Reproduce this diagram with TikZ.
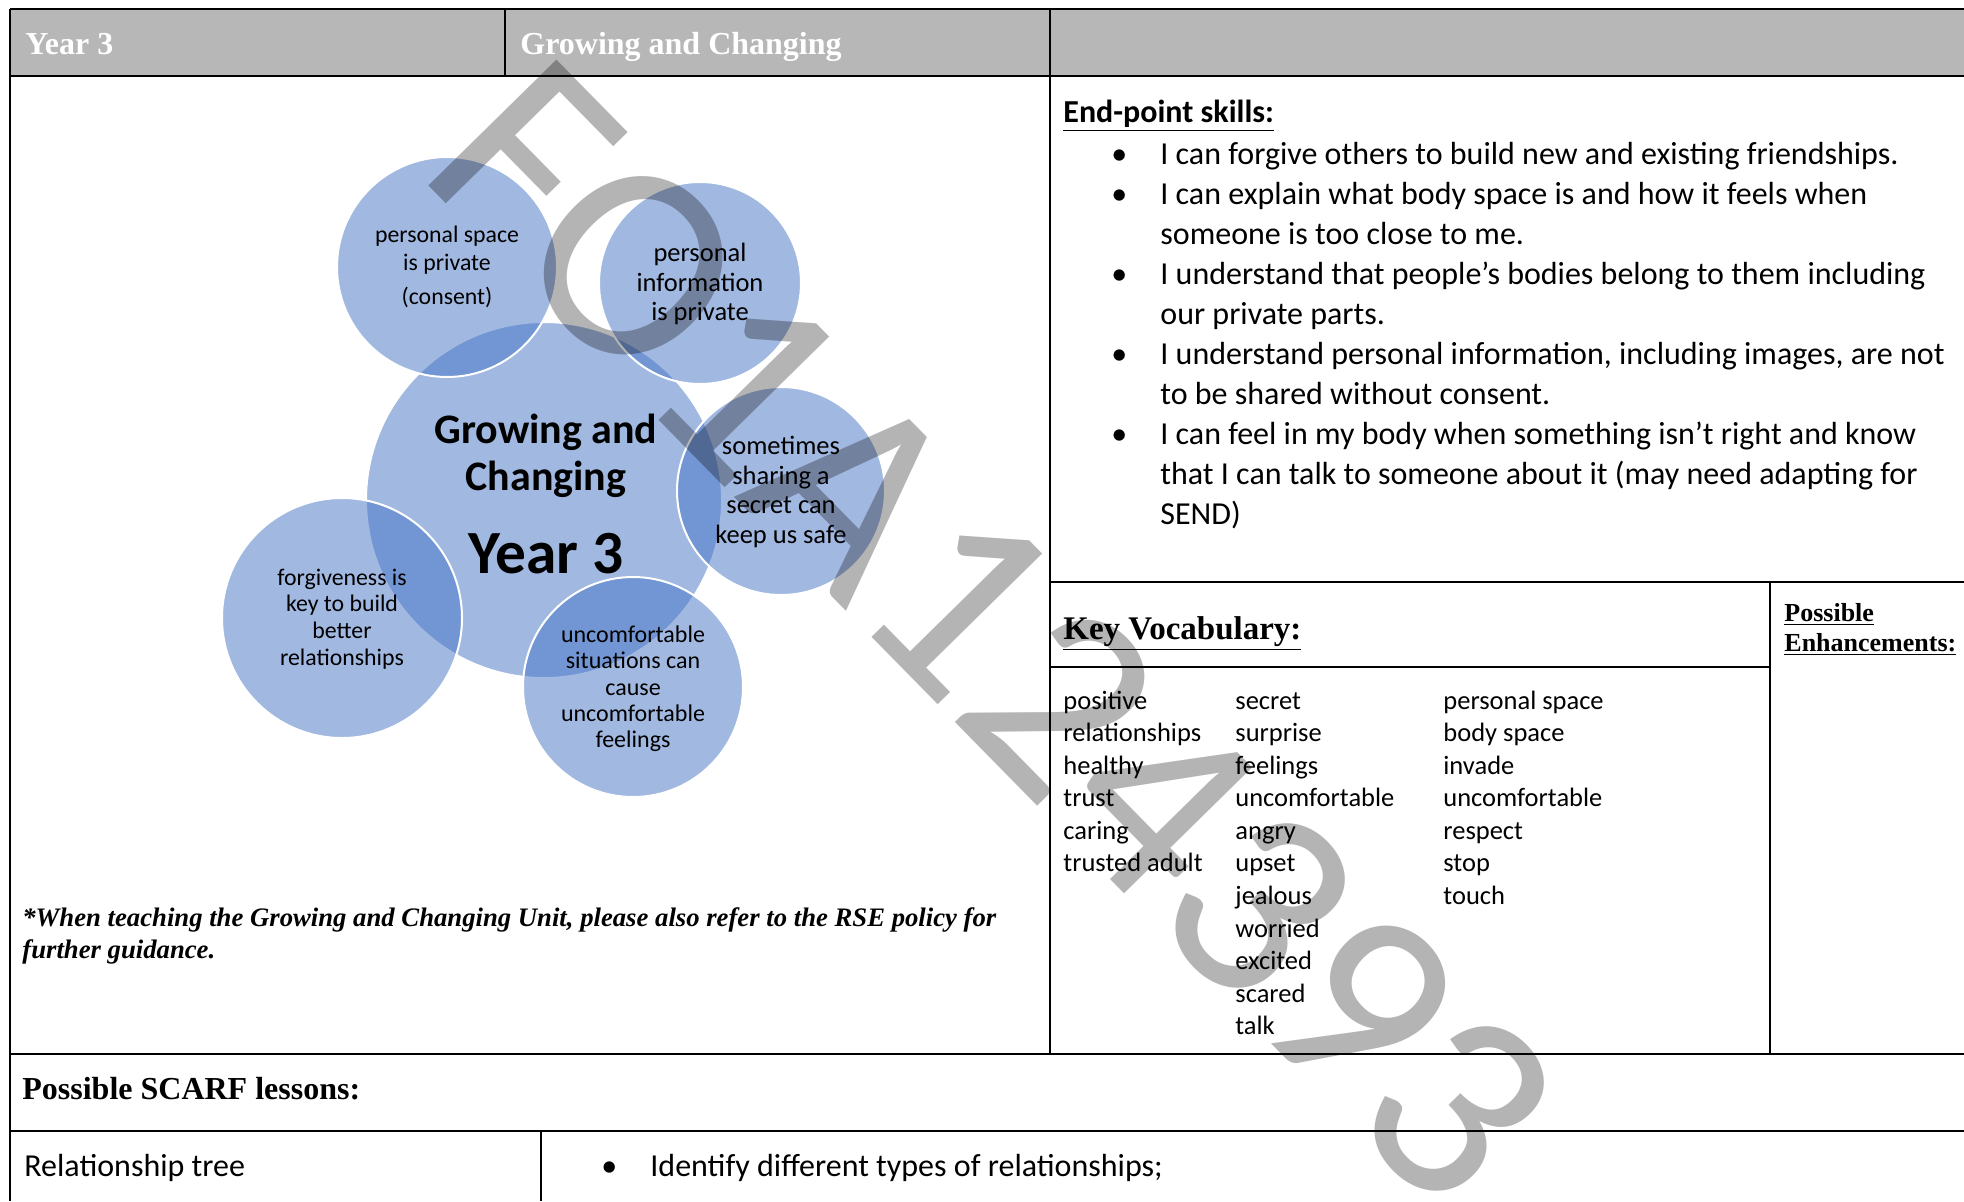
\documentclass[tikz,border=0pt]{standalone}
\usepackage{fontspec}
\setmainfont{Liberation Serif}
\newfontfamily\calfont{Carlito}
\definecolor{hdrgray}{HTML}{B7B7B7}
\definecolor{circblue}{HTML}{4472C4}
\definecolor{wmgray}{HTML}{B4B4B4}
\begin{document}
\begin{tikzpicture}[x=0.5pt,y=-0.5pt,
  tline/.style={line width=1.3pt},
  bubble/.style={circle, fill=circblue, fill opacity=0.5, draw=white, draw opacity=1, line width=1pt, inner sep=0pt},
  ctext/.style={align=center, inner sep=0pt, text=black},
  bodytxt/.style={anchor=base west, inner sep=0pt, font=\calfont\fontsize{16}{20}\selectfont},
  voc/.style={anchor=base west, inner sep=0pt, font=\calfont\fontsize{13.25}{16}\selectfont},
  hdr/.style={anchor=base west, inner sep=0pt, text=white, font=\bfseries\fontsize{16}{20}\selectfont}]
\useasboundingbox (0,0) rectangle (1964,1201);
% header band
\fill[hdrgray] (10,9) rectangle (1964,76);
% circles
\node[bubble, minimum size=178pt] (big) at (544,500) {};
\node[bubble, minimum size=110pt] (ps) at (447,267) {};
\node[bubble, minimum size=101pt] (pi) at (700,283) {};
\node[bubble, minimum size=104pt] (sm) at (781,491) {};
\node[bubble, minimum size=120pt] (fg) at (342,618) {};
\node[bubble, minimum size=110pt] (uc) at (633,687) {};
% circle texts
\node[ctext, font=\calfont\bfseries\fontsize{21}{23.8}\selectfont] (tbig) at (546,456) {Growing and\\Changing};
\node[ctext, font=\calfont\bfseries\fontsize{30.7}{34}\selectfont] (tyr) at (546,554) {Year 3};
\node[ctext, font=\calfont\fontsize{11.9}{13.8}\selectfont] (tps) at (447,267) {personal space\\is private\\[3.5pt](consent)};
\node[ctext, font=\calfont\fontsize{13.25}{14.7}\selectfont] (tpi) at (700,284) {personal\\information\\is private};
\node[ctext, font=\calfont\fontsize{13.25}{14.85}\selectfont] (tsm) at (781,492) {sometimes\\sharing a\\secret can\\keep us safe};
\node[ctext, font=\calfont\fontsize{11.9}{13.35}\selectfont] (tfg) at (342,619) {forgiveness is\\key to build\\better\\relationships};
\node[ctext, font=\calfont\fontsize{12}{13.15}\selectfont] (tuc) at (633,689) {uncomfortable\\situations can\\cause\\uncomfortable\\feelings};
% header texts
\node[hdr] (hy) at (25,54) {Year 3};
\node[hdr] (hg) at (520,54) {Growing and Changing};
% note
\node[anchor=base west, inner sep=0pt, font=\bfseries\itshape\fontsize{13.35}{16}\selectfont] (note1) at (22,926.5) {*When teaching the Growing and Changing Unit, please also refer to the RSE policy for};
\node[anchor=base west, inner sep=0pt, font=\bfseries\itshape\fontsize{13.35}{16}\selectfont] (note2) at (22,958.5) {further guidance.};
% end-point skills
\node[anchor=base west, inner sep=0pt, font=\calfont\bfseries\fontsize{16}{20}\selectfont] (eps) at (1063,122.5) {\underline{End-point skills:}};
\foreach \t [count=\i from 0] in {%
  {I can forgive others to build new and existing friendships.},
  {I can explain what body space is and how it feels when},
  {someone is too close to me.},
  {I understand that people’s bodies belong to them including},
  {our private parts.},
  {I understand personal information, including images, are not},
  {to be shared without consent.},
  {I can feel in my body when something isn’t right and know},
  {that I can talk to someone about it (may need adapting for},
  {SEND)}}
  \node[bodytxt] (ep\i) at (1160,164.1+40.08*\i) {\t};
\foreach \i in {0,1,3,5,7}
  \node[bodytxt] (epb\i) at (1111,164.1+40.08*\i) {•};
% key vocabulary
\node[anchor=base west, inner sep=0pt, font=\bfseries\fontsize{16.5}{20}\selectfont] (kv) at (1063,639.5) {\underline{Key Vocabulary:}};
\node[anchor=base west, inner sep=0pt, font=\bfseries\fontsize{13}{15}\selectfont] (pe1) at (1784,621) {\underline{Possible}};
\node[anchor=base west, inner sep=0pt, font=\bfseries\fontsize{13}{15}\selectfont] (pe2) at (1784,651) {\underline{Enhancements:}};
\foreach \t [count=\i from 0] in {positive,relationships,healthy,trust,caring,trusted adult}
  \node[voc] (va\i) at (1063,709+32.57*\i) {\t};
\foreach \t [count=\i from 0] in {secret,surprise,feelings,uncomfortable,angry,upset,jealous,worried,excited,scared,talk}
  \node[voc] (vb\i) at (1235,709+32.57*\i) {\t};
\foreach \t [count=\i from 0] in {personal space,body space,invade,uncomfortable,respect,stop,touch}
  \node[voc] (vc\i) at (1443,709+32.57*\i) {\t};
% SCARF
\node[anchor=base west, inner sep=0pt, font=\bfseries\fontsize{16}{20}\selectfont] (scarf) at (22,1099.5) {Possible SCARF lessons:};
\node[bodytxt] (rt) at (24,1176.5) {Relationship tree};
\node[bodytxt] (rb) at (601,1176.5) {•};
\node[bodytxt] (ri) at (650,1176.5) {Identify different types of relationships;};
% table lines
\draw[tline] (10,9) -- (1964,9);
\draw[tline] (10,76) -- (1964,76);
\draw[tline] (10,9) -- (10,1201);
\draw[tline] (505,9) -- (505,76);
\draw[tline] (1050,9) -- (1050,1054);
\draw[tline] (1050,582) -- (1964,582);
\draw[tline] (1050,667) -- (1770,667);
\draw[tline] (1770,582) -- (1770,1054);
\draw[tline] (10,1054) -- (1964,1054);
\draw[tline] (10,1131) -- (1964,1131);
\draw[tline] (541,1131) -- (541,1201);
% watermark
\begin{scope}[blend mode=multiply]
\node[inner sep=0pt, text=wmgray, rotate=-45.5, font=\calfont\fontsize{140}{144}\selectfont] (wm) at (994,633) {FO1A124393};
\end{scope}
\end{tikzpicture}
\end{document}
